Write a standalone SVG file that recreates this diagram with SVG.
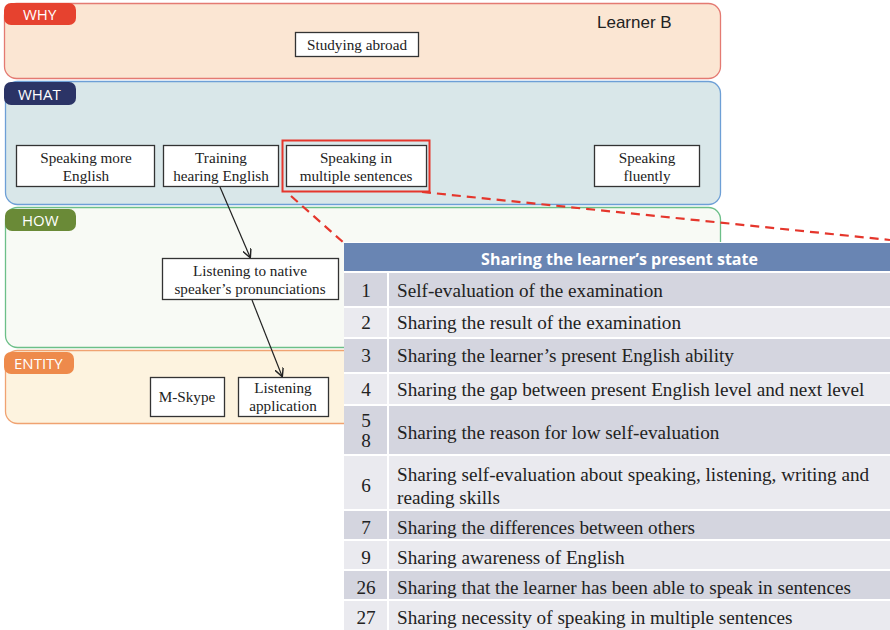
<svg xmlns="http://www.w3.org/2000/svg" width="890" height="630" viewBox="0 0 890 630">
  <defs>
    <marker id="arrow" viewBox="0 0 10 10" refX="9" refY="5" markerWidth="9" markerHeight="9" orient="auto" markerUnits="userSpaceOnUse">
      <path d="M0,0 L10,5 L0,10" fill="none" stroke="#222" stroke-width="1.6"/>
    </marker>
    <style>
      .tab { font-family: "Open Sans", "Liberation Sans", sans-serif; font-size: 15px; fill: #fff; }
      .box { fill: #fff; stroke: #333; stroke-width: 1.3; }
      .bt { font-family: "Liberation Serif", "Times New Roman", serif; font-size: 15.2px; fill: #222; text-anchor: middle; }
      .dark { fill: #d4d5df; }
      .light { fill: #eaeaef; }
      .num { font-family: "Liberation Serif", "Times New Roman", serif; font-size: 19.2px; fill: #222; text-anchor: middle; }
      .cell { font-family: "Liberation Serif", "Times New Roman", serif; font-size: 19.2px; fill: #222; }
    </style>
  </defs>

  <rect width="890" height="630" fill="#fff"/>

  <!-- Layer panels -->
  <g id="panel-why">
    <rect x="4.5" y="3.5" width="716" height="75" rx="12" fill="#fbe6d3" stroke="#e47a72" stroke-width="1.3"/>
    <rect x="4" y="3" width="72" height="22" rx="7" fill="#e6422f"/>
    <text class="tab" x="23" y="19.5">WHY</text>
    <text x="597" y="28" font-family="Liberation Sans, Arial, sans-serif" font-size="17" fill="#222">Learner B</text>
  </g>
  <g id="panel-what">
    <rect x="5.5" y="81.5" width="715" height="123" rx="12" fill="#d9e7e9" stroke="#6d9fd6" stroke-width="1.3"/>
    <rect x="4" y="82" width="72" height="23" rx="7" fill="#2b3466"/>
    <text class="tab" x="18" y="99.5">WHAT</text>
  </g>
  <g id="panel-how">
    <rect x="5.5" y="207.5" width="715" height="140" rx="12" fill="#f8faf5" stroke="#6cbf88" stroke-width="1.3"/>
    <rect x="5" y="209" width="71" height="22" rx="7" fill="#6a8a37"/>
    <text class="tab" x="22" y="225.5">HOW</text>
  </g>
  <g id="panel-entity">
    <rect x="5.5" y="350.5" width="715" height="73" rx="12" fill="#fdf3df" stroke="#f0a271" stroke-width="1.3"/>
    <rect x="4" y="352" width="70" height="22" rx="7" fill="#ee8a4b"/>
    <text class="tab" x="14" y="368.5">ENTITY</text>
  </g>

  <!-- Nodes -->
  <g id="node-studying-abroad">
    <rect class="box" x="295.5" y="32.5" width="123" height="24"/>
    <text class="bt" x="357" y="50">Studying abroad</text>
  </g>
  <g id="node-speaking-more">
    <rect class="box" x="16.5" y="145.5" width="138" height="41"/>
    <text class="bt" x="86" y="163">Speaking more</text>
    <text class="bt" x="86" y="181">English</text>
  </g>
  <g id="node-training-hearing">
    <rect class="box" x="163.5" y="145.5" width="115" height="41"/>
    <text class="bt" x="221" y="163">Training</text>
    <text class="bt" x="221" y="181">hearing English</text>
  </g>
  <g id="node-multiple-sentences">
    <rect x="282.5" y="140.5" width="147" height="51" fill="none" stroke="#e5362c" stroke-width="2"/>
    <rect class="box" x="286.5" y="145.5" width="140" height="41"/>
    <text class="bt" x="356" y="163">Speaking in</text>
    <text class="bt" x="356" y="181">multiple sentences</text>
  </g>
  <g id="node-speaking-fluently">
    <rect class="box" x="594.5" y="145.5" width="105" height="41"/>
    <text class="bt" x="647" y="163">Speaking</text>
    <text class="bt" x="647" y="181">fluently</text>
  </g>
  <g id="node-listening-native">
    <rect class="box" x="162.5" y="258.5" width="176" height="41"/>
    <text class="bt" x="250" y="276">Listening to native</text>
    <text class="bt" x="250" y="294">speaker’s pronunciations</text>
  </g>
  <g id="node-m-skype">
    <rect class="box" x="150.5" y="377.5" width="74" height="39"/>
    <text class="bt" x="187" y="402">M-Skype</text>
  </g>
  <g id="node-listening-app">
    <rect class="box" x="238.5" y="377.5" width="90" height="39"/>
    <text class="bt" x="283" y="393">Listening</text>
    <text class="bt" x="283" y="411">application</text>
  </g>

  <!-- Connectors -->
  <g id="connectors" fill="none">
    <line x1="220" y1="187" x2="250" y2="257" stroke="#222" stroke-width="1.2" marker-end="url(#arrow)"/>
    <line x1="252" y1="300" x2="282" y2="376" stroke="#222" stroke-width="1.2" marker-end="url(#arrow)"/>
    <line x1="291" y1="196" x2="344" y2="243" stroke="#e5362c" stroke-width="2.2" stroke-dasharray="9,6"/>
    <line x1="422" y1="192" x2="890" y2="240" stroke="#e5362c" stroke-width="2.2" stroke-dasharray="9,6"/>
  </g>

  <!-- Detail table -->
  <g id="table-present-state">
    <rect x="344" y="242" width="546" height="388" fill="#fff"/>
    <rect x="344" y="243" width="546" height="28" fill="#6985b3"/>
    <text x="619.5" y="264.5" text-anchor="middle" font-family="Open Sans, Liberation Sans, sans-serif" font-size="16" font-weight="bold" fill="#fff">Sharing the learner’s present state</text>

    <g id="rows">
      <rect class="dark" x="344" y="273" width="43" height="33"/><rect class="dark" x="389" y="273" width="501" height="33"/>
      <rect class="light" x="344" y="308" width="43" height="29"/><rect class="light" x="389" y="308" width="501" height="29"/>
      <rect class="dark" x="344" y="339" width="43" height="33"/><rect class="dark" x="389" y="339" width="501" height="33"/>
      <rect class="light" x="344" y="374" width="43" height="30"/><rect class="light" x="389" y="374" width="501" height="30"/>
      <rect class="dark" x="344" y="406" width="43" height="48"/><rect class="dark" x="389" y="406" width="501" height="48"/>
      <rect class="light" x="344" y="456" width="43" height="53"/><rect class="light" x="389" y="456" width="501" height="53"/>
      <rect class="dark" x="344" y="511" width="43" height="28"/><rect class="dark" x="389" y="511" width="501" height="28"/>
      <rect class="light" x="344" y="541" width="43" height="28"/><rect class="light" x="389" y="541" width="501" height="28"/>
      <rect class="dark" x="344" y="571" width="43" height="28"/><rect class="dark" x="389" y="571" width="501" height="28"/>
      <rect class="light" x="344" y="601" width="43" height="29"/><rect class="light" x="389" y="601" width="501" height="29"/>
    </g>

    <text class="num" x="366" y="297">1</text>
    <text class="cell" x="397" y="297">Self-evaluation of the examination</text>
    <text class="num" x="366" y="329">2</text>
    <text class="cell" x="397" y="329">Sharing the result of the examination</text>
    <text class="num" x="366" y="362">3</text>
    <text class="cell" x="397" y="362">Sharing the learner’s present English ability</text>
    <text class="num" x="366" y="396">4</text>
    <text class="cell" x="397" y="396">Sharing the gap between present English level and next level</text>
    <text class="num" x="366" y="427">5</text>
    <text class="num" x="366" y="447">8</text>
    <text class="cell" x="397" y="439">Sharing the reason for low self-evaluation</text>
    <text class="num" x="366" y="492">6</text>
    <text class="cell" x="397" y="481">Sharing self-evaluation about speaking, listening, writing and</text>
    <text class="cell" x="397" y="504">reading skills</text>
    <text class="num" x="366" y="534">7</text>
    <text class="cell" x="397" y="534">Sharing the differences between others</text>
    <text class="num" x="366" y="564">9</text>
    <text class="cell" x="397" y="564">Sharing awareness of English</text>
    <text class="num" x="366" y="594">26</text>
    <text class="cell" x="397" y="594">Sharing that the learner has been able to speak in sentences</text>
    <text class="num" x="366" y="624">27</text>
    <text class="cell" x="397" y="624">Sharing necessity of speaking in multiple sentences</text>
  </g>
</svg>
